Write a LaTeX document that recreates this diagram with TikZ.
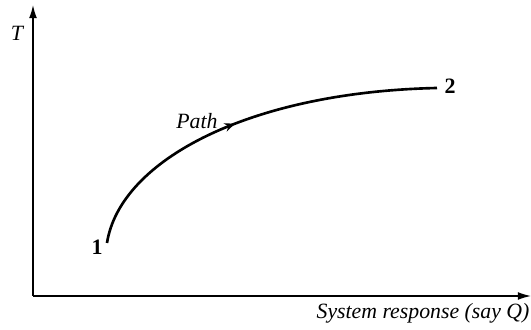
\documentclass[tikz,border=0pt]{standalone}
\usepackage{fontspec}
\setmainfont{Liberation Serif}
\usetikzlibrary{arrows.meta,decorations.markings}
\begin{document}
\begin{tikzpicture}[x=0.02cm,y=-0.02cm,
  axis/.style={line width=0.8pt,-{Latex[length=7.5pt,width=4.5pt]}},
  curveline/.style={line width=1.5pt,
    postaction={decorate},
    decoration={markings,mark=at position 0.47 with {\arrow{Stealth[length=6pt,width=5pt,inset=2pt]}}}},
  lbl/.style={font=\fontsize{12.4}{14}\selectfont\itshape,inner sep=0pt},
  pt/.style={font=\fontsize{12.5}{14}\selectfont\bfseries,inner sep=0pt}]
\useasboundingbox (0,0) rectangle (531,330);
\coordinate (O) at (33,296);
\coordinate (ytop) at (33,5);
\coordinate (xend) at (531,296);
\draw[axis] (O) -- (ytop);
\draw[axis] (O) -- (xend);
\node[lbl] (T) at (17,33) {T};
\node[lbl] (xl) at (423,313) {System response (say Q)};
\coordinate (p1) at (107,243);
\coordinate (p2) at (437,88);
\draw[curveline] (p1) .. controls (120,160) and (250,92) .. (p2);
\node[lbl] (path) at (197,121) {Path};
\node[pt] (n1) at (97,247) {1};
\node[pt] (n2) at (450,86) {2};
\end{tikzpicture}
\end{document}
